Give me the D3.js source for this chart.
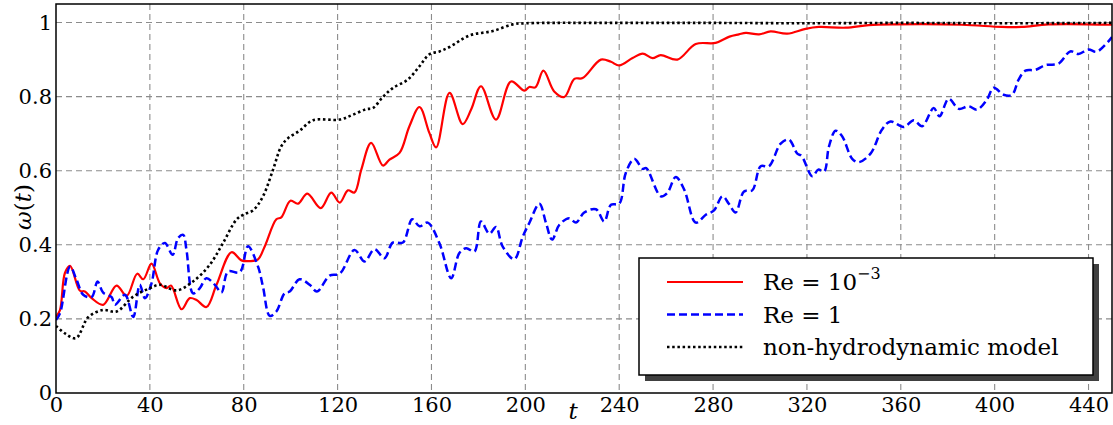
<!DOCTYPE html>
<html>
<head>
<meta charset="utf-8">
<script src="https://cdn.jsdelivr.net/npm/d3@7"></script>
<style>
  body { margin: 0; background: #fff; }
  svg text { fill: #000; }
</style>
</head>
<body>
<svg id="chart" width="1113" height="425"></svg>
<script>
// Data

// Re = 10^-3 (red solid)
const tRed = [0, 1.7, 3.8, 6, 10.2, 12.3, 15.2, 20.1, 25.8, 30.1, 34.6, 37.2, 40.7, 44.3, 47.1, 49, 53.5, 57, 59.9, 64.1,
  68.4, 74.8, 79, 82.6, 86.1, 88.9, 93.9, 96, 99.9, 103.1, 107.1, 112.8, 117.3, 120.9, 124.4, 127.2, 130.1, 134.3, 139.3, 142.1,
  146.4, 150.6, 154.9, 159.1, 162, 167.7, 173.3, 176.9, 181.1, 187.5, 193.9, 199.6, 201.7, 204.3, 207.7, 212.3, 216.6, 220.9, 224.4, 232.2,
  236.5, 240, 245.7, 250, 254.2, 257.7, 264.8, 272.6, 281.1, 287, 291, 294, 299.6, 304.5, 311.6, 319.4, 325.1, 336.5, 346.4, 357.7,
  386, 403, 411.6, 423, 450];
const wRed = [0.206, 0.224, 0.324, 0.343, 0.276, 0.274, 0.256, 0.238, 0.29, 0.262, 0.322, 0.307, 0.349, 0.296, 0.283, 0.29, 0.226, 0.256, 0.251, 0.232,
  0.292, 0.38, 0.358, 0.356, 0.361, 0.395, 0.469, 0.474, 0.519, 0.511, 0.538, 0.499, 0.541, 0.514, 0.547, 0.541, 0.603, 0.675, 0.614, 0.63,
  0.648, 0.72, 0.772, 0.702, 0.663, 0.81, 0.726, 0.765, 0.828, 0.738, 0.841, 0.816, 0.826, 0.825, 0.87, 0.814, 0.799, 0.848, 0.85, 0.9,
  0.894, 0.884, 0.904, 0.916, 0.904, 0.912, 0.9, 0.942, 0.945, 0.962, 0.968, 0.972, 0.968, 0.976, 0.97, 0.983, 0.988, 0.986, 0.993, 0.995,
  0.994, 0.988, 0.988, 0.995, 0.994];

// Re = 1 (blue dashed)
const tBlue = [0, 1.7, 6, 8.8, 11.6, 15.2, 17.7, 20.1, 23.7, 25.1, 29.4, 32.9, 35.7, 37.9, 40.7, 43.5, 46.4, 49.7, 52, 54.2,
  55.6, 58.4, 61.3, 64.1, 67.7, 70.5, 73.3, 78.3, 81.8, 86.1, 88.2, 91.1, 93.9, 97.4, 99.6, 103.8, 108.1, 111.2, 116.6, 120.9,
  127.2, 131.5, 135.7, 140, 143.5, 147.8, 151.8, 154.9, 158.4, 163.4, 168.4, 171.9, 174.8, 178.3, 181.1, 184.7, 187.5, 190.3, 195.3, 198.9,
  201.7, 206, 208.8, 211.4, 214.5, 218.7, 221.6, 225.1, 230.1, 233.6, 236.5, 240, 242.8, 246.4, 250, 251.5, 257.7, 260.5, 264.1, 267.7,
  272.6, 276.9, 280.4, 284, 286.8, 289.6, 293.2, 296.7, 300.3, 303.8, 308.8, 312.3, 315.9, 317.7, 322.3, 324.8, 327.3, 329.4, 332.2, 335,
  339.3, 342.1, 347.1, 352, 355.6, 361.3, 365.5, 369.1, 374, 376.5, 380.4, 384.7, 388.9, 392.5, 396.7, 399.6, 403.8, 407.4, 410.2, 413.1,
  417.3, 421.6, 427.2, 432.2, 435.7, 440, 443.5, 450];
const wBlue = [0.197, 0.215, 0.341, 0.305, 0.265, 0.259, 0.301, 0.271, 0.259, 0.238, 0.265, 0.205, 0.292, 0.256, 0.296, 0.386, 0.405, 0.373, 0.418, 0.427,
  0.386, 0.269, 0.283, 0.31, 0.292, 0.271, 0.328, 0.326, 0.396, 0.341, 0.287, 0.208, 0.22, 0.269, 0.274, 0.307, 0.292, 0.274, 0.317, 0.322,
  0.386, 0.355, 0.388, 0.364, 0.406, 0.406, 0.469, 0.45, 0.46, 0.404, 0.31, 0.378, 0.391, 0.382, 0.463, 0.43, 0.448, 0.396, 0.361, 0.422,
  0.459, 0.511, 0.459, 0.414, 0.454, 0.472, 0.46, 0.487, 0.496, 0.463, 0.508, 0.511, 0.594, 0.632, 0.605, 0.607, 0.531, 0.54, 0.583, 0.549,
  0.46, 0.481, 0.493, 0.531, 0.51, 0.487, 0.544, 0.547, 0.612, 0.612, 0.673, 0.684, 0.646, 0.64, 0.585, 0.603, 0.598, 0.666, 0.708, 0.693,
  0.632, 0.623, 0.646, 0.711, 0.733, 0.718, 0.736, 0.72, 0.769, 0.747, 0.794, 0.767, 0.774, 0.765, 0.792, 0.824, 0.805, 0.805, 0.846, 0.87,
  0.872, 0.885, 0.889, 0.922, 0.915, 0.927, 0.921, 0.961];

// non-hydrodynamic model (black dotted)
const tBlack = [0, 4, 8.5, 13.8, 20.1, 25.8, 32.9, 40, 44.3, 51.4, 58.4, 65.5, 71.2, 76.9, 80, 84, 88.2, 92.5, 96, 98.9,
  103.8, 109.5, 120.9, 126.5, 132.2, 135, 139.3, 143.5, 149.9, 154.9, 159.1, 163.4, 167.7, 176.2, 186.1, 194.6, 200.3, 240, 280, 320,
  360, 400, 450];
const wBlack = [0.181, 0.16, 0.148, 0.205, 0.224, 0.22, 0.26, 0.283, 0.292, 0.277, 0.301, 0.346, 0.405, 0.468, 0.482, 0.493, 0.531, 0.603, 0.666, 0.688,
  0.708, 0.736, 0.738, 0.751, 0.766, 0.769, 0.799, 0.823, 0.846, 0.882, 0.914, 0.922, 0.934, 0.965, 0.977, 0.995, 0.998, 0.999, 0.999, 0.998,
  0.999, 0.998, 0.999];

const xTicks = [0, 40, 80, 120, 160, 200, 240, 280, 320, 360, 400, 440];
const yTicks = [0, 0.2, 0.4, 0.6, 0.8, 1];
const yTickLabels = ['0', '0.2', '0.4', '0.6', '0.8', '1'];

const seriesNames = ['Re = 10', 'Re = 1', 'non-hydrodynamic model'];

const serif = '"DejaVu Serif", "Liberation Serif", serif';

const svg = d3.select('#chart');
const plotLeft = 56, plotRight = 1112, plotTop = 4, plotBottom = 393;

const x = d3.scaleLinear().domain([0, 450]).range([plotLeft, plotRight]);
const y = d3.scaleLinear().domain([0, 1.05]).range([plotBottom, plotTop]);

// grid
const grid = svg.append('g').attr('class', 'grid');
grid.selectAll('line.v')
  .data(xTicks.filter(d => d > 0))
  .enter().append('line')
  .attr('x1', d => x(d)).attr('x2', d => x(d))
  .attr('y1', plotTop).attr('y2', plotBottom)
  .attr('stroke', '#8c8c8c').attr('stroke-width', 1.1)
  .attr('stroke-dasharray', '6,4');
grid.selectAll('line.h')
  .data(yTicks.filter(d => d > 0))
  .enter().append('line')
  .attr('x1', plotLeft).attr('x2', plotRight)
  .attr('y1', d => y(d)).attr('y2', d => y(d))
  .attr('stroke', '#8c8c8c').attr('stroke-width', 1.1)
  .attr('stroke-dasharray', '6,4');

// curves
svg.append('clipPath').attr('id', 'plot-clip')
  .append('rect').attr('x', plotLeft).attr('y', plotTop)
  .attr('width', plotRight - plotLeft).attr('height', plotBottom - plotTop);

const line = d3.line()
  .x(d => x(d[0]))
  .y(d => y(d[1]))
  .curve(d3.curveCatmullRom.alpha(0.5));

const curves = [
  { t: tRed, w: wRed, color: '#ff0000', dash: null, width: 2.2 },
  { t: tBlue, w: wBlue, color: '#0000ff', dash: '8,4', width: 2.5 },
  { t: tBlack, w: wBlack, color: '#000000', dash: '2.5,2.7', width: 2.6 }
];

const plot = svg.append('g').attr('clip-path', 'url(#plot-clip)');
curves.forEach(c => {
  plot.append('path')
    .datum(c.t.map((t, i) => [t, c.w[i]]))
    .attr('d', line)
    .attr('fill', 'none')
    .attr('stroke', c.color)
    .attr('stroke-width', c.width)
    .attr('stroke-dasharray', c.dash);
});

// frame
svg.append('rect')
  .attr('x', plotLeft).attr('y', plotTop)
  .attr('width', plotRight - plotLeft).attr('height', plotBottom - plotTop)
  .attr('fill', 'none').attr('stroke', '#000').attr('stroke-width', 1.5);

// tick labels
const xAxis = svg.append('g')
  .attr('transform', `translate(0,${plotBottom})`)
  .call(d3.axisBottom(x).tickValues(xTicks).tickSize(0).tickPadding(4).tickFormat(d3.format('d')));
xAxis.select('.domain').remove();
xAxis.attr('font-family', serif).attr('font-size', 21);

const yAxis = svg.append('g')
  .attr('transform', `translate(${plotLeft},0)`)
  .call(d3.axisLeft(y).tickValues(yTicks).tickSize(0).tickPadding(4)
    .tickFormat((d, i) => yTickLabels[i]));
yAxis.select('.domain').remove();
yAxis.attr('font-family', serif).attr('font-size', 21);

// axis titles
svg.append('text')
  .attr('x', 573).attr('y', 419)
  .attr('text-anchor', 'middle')
  .attr('font-size', 23).attr('font-style', 'italic').attr('font-family', serif)
  .text('t');

const yl = svg.append('text')
  .attr('transform', 'translate(31,207) rotate(-90)')
  .attr('text-anchor', 'middle')
  .attr('font-size', 23).attr('font-family', serif);
yl.append('tspan').attr('font-style', 'italic').text('ω');
yl.append('tspan').text('(');
yl.append('tspan').attr('font-style', 'italic').text('t');
yl.append('tspan').text(')');

// legend with drop shadow
const lg = svg.append('g');
lg.append('rect')
  .attr('x', 645).attr('y', 264).attr('width', 454).attr('height', 117)
  .attr('fill', '#404040');
lg.append('rect')
  .attr('x', 639).attr('y', 258).attr('width', 454).attr('height', 117)
  .attr('fill', '#fff').attr('stroke', '#000').attr('stroke-width', 1.5);

const rowY = [282, 314.5, 347];
curves.forEach((c, i) => {
  lg.append('line')
    .attr('x1', 667).attr('x2', 743)
    .attr('y1', rowY[i]).attr('y2', rowY[i])
    .attr('stroke', c.color).attr('stroke-width', c.width)
    .attr('stroke-dasharray', c.dash);
  const tx = lg.append('text')
    .attr('x', 763).attr('y', rowY[i] + 8)
    .attr('font-size', 23).attr('font-family', serif)
    .text(seriesNames[i]);
  if (i === 0) {
    tx.append('tspan').attr('dy', -11).attr('font-size', 16).text('−3');
  }
});
</script>
</body>
</html>
